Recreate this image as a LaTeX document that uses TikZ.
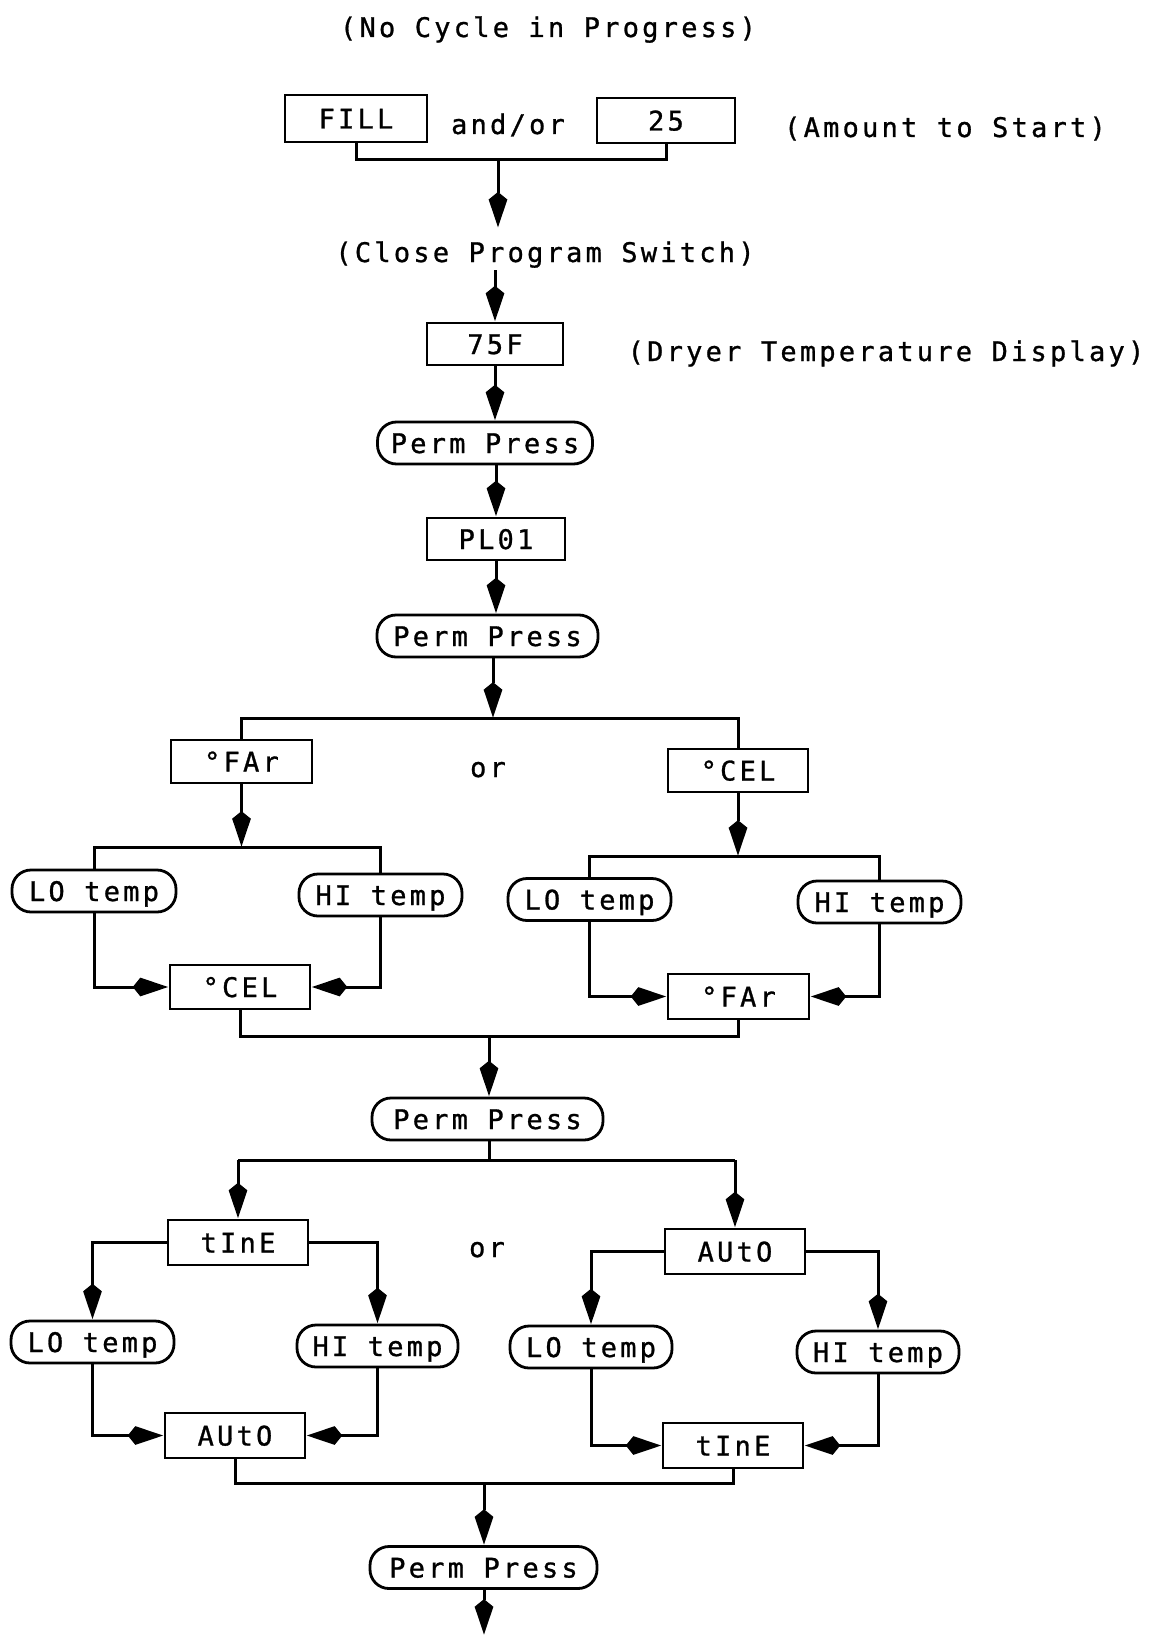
\documentclass[tikz,border=0pt]{standalone}
\usepackage{fontspec}
\newfontfamily\dfont{DejaVu Sans Mono}[LetterSpace=12,FakeBold=1]
\usetikzlibrary{arrows.meta}
\begin{document}
\begin{tikzpicture}[x=1pt,y=-1pt,
  every node/.style={font=\dfont\fontsize{27}{32}\selectfont, inner sep=0pt, text height=20pt, text depth=0pt},
  box/.style={draw, line width=2.8pt, minimum width=#1, minimum height=44pt},
  box/.default=140pt,
  pill/.style={draw, line width=2.8pt, rounded corners=19pt, minimum width=#1, minimum height=42pt},
  pill/.default=163pt,
  ln/.style={line width=3pt},
  arr/.style={ln, -{Stealth[length=28pt,width=17pt,inset=-8pt]}},
]
\path[use as bounding box] (0,0) rectangle (1151,1637);

% top
\node (top) at (548,27) {(No Cycle in Progress)};
\node[box=142pt, minimum height=47pt] (fill) at (356,118.5) {FILL};
\node (andor) at (508,124) {and/or};
\node[box=138pt, minimum height=45pt] (n25) at (666,120.5) {25};
\node (amount) at (945,127) {(Amount to Start)};
\coordinate (j1) at (498,160);
\node[anchor=base, text height=26pt, inner ysep=8pt] (close) at (545,262) {(Close Program Switch)};
\node[box=136pt, minimum height=42pt] (t75) at (495,344) {75F};
\node (dryer) at (886,351) {(Dryer Temperature Display)};
\node[pill=215pt] (pp1) at (485,443) {Perm Press};
\node[box=138pt, minimum height=42pt] (pl01) at (496,539) {PL01};
\node[pill=221pt] (pp2) at (487.5,636) {Perm Press};

% first choice
\coordinate (b1) at (493,718);
\node[box=141pt, minimum height=43pt] (farA) at (241.5,761.5) {°FAr};
\node[box=140pt, minimum height=43pt] (celA) at (738,770.5) {°CEL};
\node (or1) at (488,767) {or};
\coordinate (b2) at (241,847);
\node[pill=164pt] (lo1) at (94,891) {LO temp};
\node[pill=163pt] (hi1) at (380.5,895) {HI temp};
\node[box=140pt, minimum height=44pt] (celB) at (240,987) {°CEL};
\coordinate (b3) at (737,856);
\node[pill=163pt] (lo2) at (589.5,899.5) {LO temp};
\node[pill=163pt] (hi2) at (879.5,902) {HI temp};
\node[box=141pt, minimum height=45pt] (farB) at (738.5,996.5) {°FAr};
\coordinate (b4) at (489,1036);
\node[pill=231pt] (pp3) at (487.5,1119) {Perm Press};

% second choice
\coordinate (b5) at (489,1160);
\node[box=140pt, minimum height=45pt] (tineA) at (238,1242.5) {tInE};
\node[box=140pt, minimum height=45pt] (autoA) at (735,1251.5) {AUtO};
\node (or2) at (487,1247) {or};
\node[pill=163pt] (lo3) at (92.5,1342) {LO temp};
\node[pill=161pt] (hi3) at (377.5,1346) {HI temp};
\node[box=140pt, minimum height=45pt] (autoB) at (235,1435.5) {AUtO};
\node[pill=162pt] (lo4) at (591,1347) {LO temp};
\node[pill=162pt] (hi4) at (878,1352) {HI temp};
\node[box=140pt, minimum height=45pt] (tineB) at (733,1445.5) {tInE};
\coordinate (b6) at (484,1483);
\node[pill=227pt] (pp4) at (483.5,1567.5) {Perm Press};
\coordinate (endpt) at (484,1635);

% connectors
\draw[ln] (fill.south) -- (fill.south |- j1) -- (n25.south |- j1) -- (n25.south);
\draw[arr] (j1) -- (j1 |- close.north);
\draw[arr] (close.south -| t75) -- (t75.north);
\draw[arr] (t75.south) -- (t75.south |- pp1.north);
\draw[arr] (pl01.north |- pp1.south) -- (pl01.north);
\draw[arr] (pl01.south) -- (pl01.south |- pp2.north);
\draw[arr] (pp2.south -| b1) -- (b1);
\draw[ln] (farA.north) -- (farA.north |- b1) -- (celA.north |- b1) -- (celA.north);
\draw[arr] (farA.south) -- (farA.south |- b2);
\draw[ln] (lo1.north) -- (lo1.north |- b2) -- (hi1.north |- b2) -- (hi1.north);
\draw[arr] (lo1.south) |- (celB.west);
\draw[arr] (hi1.south) |- (celB.east);
\draw[arr] (celA.south) -- (celA.south |- b3);
\draw[ln] (lo2.north) -- (lo2.north |- b3) -- (hi2.north |- b3) -- (hi2.north);
\draw[arr] (lo2.south) |- (farB.west);
\draw[arr] (hi2.south) |- (farB.east);
\draw[ln] (celB.south) -- (celB.south |- b4) -- (farB.south |- b4) -- (farB.south);
\draw[arr] (b4) -- (b4 |- pp3.north);
\draw[ln] (pp3.south -| b5) -- (b5);
\draw[ln] (tineA.north |- b5) -- (autoA.north |- b5);
\draw[arr] (tineA.north |- b5) -- (tineA.north);
\draw[arr] (autoA.north |- b5) -- (autoA.north);
\draw[arr] (tineA.west) -| (lo3.north);
\draw[arr] (tineA.east) -| (hi3.north);
\draw[arr] (lo3.south) |- (autoB.west);
\draw[arr] (hi3.south) |- (autoB.east);
\draw[arr] (autoA.west) -| (lo4.north);
\draw[arr] (autoA.east) -| (hi4.north);
\draw[arr] (lo4.south) |- (tineB.west);
\draw[arr] (hi4.south) |- (tineB.east);
\draw[ln] (autoB.south) -- (autoB.south |- b6) -- (tineB.south |- b6) -- (tineB.south);
\draw[arr] (b6) -- (b6 |- pp4.north);
\draw[arr] (pp4.south -| endpt) -- (endpt);
\end{tikzpicture}
\end{document}
